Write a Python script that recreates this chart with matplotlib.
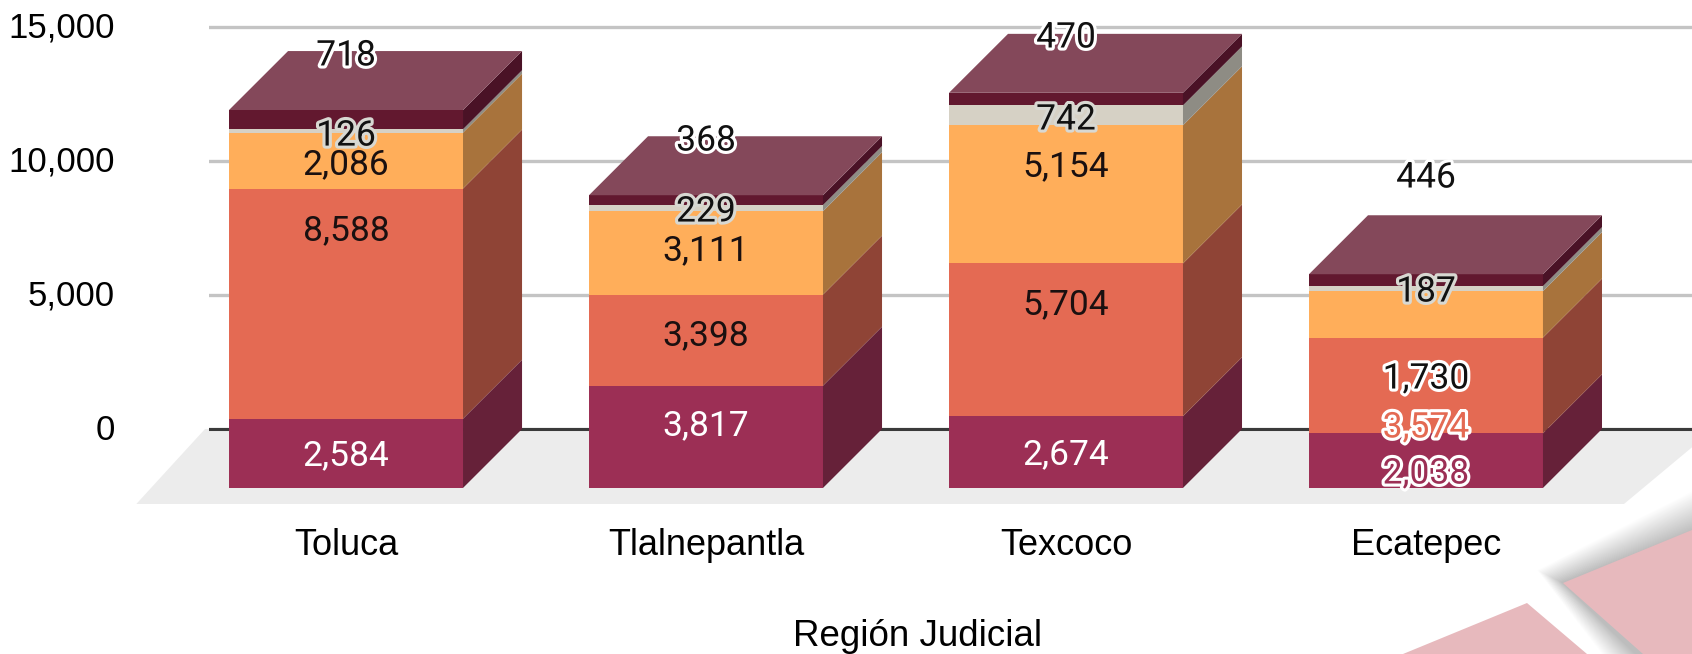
# -*- coding: utf-8 -*-
# Stacked 3D-looking columns per judicial region
import matplotlib
matplotlib.use("Agg")
import matplotlib.pyplot as plt
import matplotlib.patheffects as pe
from matplotlib.patches import Polygon
from matplotlib.transforms import ScaledTranslation
import numpy as np

#### DATA
regions = ["Toluca", "Tlalnepantla", "Texcoco", "Ecatepec"]
yticks = [0, 5000, 10000, 15000]

serie1 = [2584, 3817, 2674, 2038]
serie2 = [8588, 3398, 5704, 3574]
serie3 = [2086, 3111, 5154, 1730]
serie4 = [126, 229, 742, 187]
serie5 = [718, 368, 470, 446]

# where the chart put each label, in axis units (not the segment middle)
label_y1 = [-880, 240, -840, -1550]
label_y2 = [7520, 3600, 4760, 170]
label_y3 = [9980, 6770, 9905, 1995]
label_y4 = [11060, 8225, 11660, 5240]
label_y5 = [14050, 10875, 14720, 9495]

#### STYLES
front = ["#9C2F55", "#E46A53", "#FFAE5A", "#D6D1C5", "#62182F"]
side = ["#662139", "#8F4436", "#A8733C", "#8E8C84", "#4A1226"]
top_color = "#84485A"
width = 0.65
depth_x = 0.164
depth_y = 2200

W, H = 1692, 654
fig = plt.figure(figsize=(W / 100, H / 100), dpi=100)
ax = fig.add_axes([209 / W, (H - 504) / H, (W - 209) / W, 504 / H])
ax.patch.set_alpha(0)
ax.set_xlim(-0.3806, 3.739)
ax.set_ylim(-2799, 16007)

sans = ["Liberation Sans", "DejaVu Sans"]
label_font = ["Roboto", "DejaVu Sans"]

#### BACKGROUND DECORATION (pink corner shapes), figure coordinates


def px(points):
    return [(x / W, 1 - y / H) for x, y in points]


# soft shadow made of many faint growing shapes
steps = 34
for i in range(steps):
    g = (steps - i) * 1.25
    shadow = [(1563 - g * 0.6, 583 - g * 0.3), (1700, 530 - g), (1700, 660), (1643 - g * 0.85, 660)]
    fig.add_artist(Polygon(px(shadow), closed=True, fc="#808080", ec="none", alpha=0.015, zorder=-2))
fig.add_artist(Polygon(px([(1563, 583), (1692, 530), (1692, 654), (1643, 654)]), closed=True,
                       fc="#E7B9BD", ec="none", zorder=-1))
fig.add_artist(Polygon(px([(1527, 603), (1403, 654), (1587, 654)]), closed=True,
                       fc="#E7B9BD", ec="none", zorder=-1))

#### FLOOR + GRID
floor_x = [-0.5825, -0.3917, 3.80, 3.55]
floor_y = [-2799, 0, 0, -2799]
ax.fill(floor_x, floor_y, color="#ECECEC", zorder=1, clip_on=False, lw=0)

ax.set_yticks(yticks)
ax.set_yticklabels([f"{v:,}" for v in yticks], fontsize=25, family=sans)
ax.tick_params(axis="y", length=0, pad=68)
up = ScaledTranslation(0, 1.5 / 72, fig.dpi_scale_trans)
for lab in ax.get_yticklabels():
    lab.set_transform(lab.get_transform() + up)
ax.grid(axis="y", color="#C4C4C4", lw=2.4, zorder=1.5)
ax.set_axisbelow(True)
ax.axhline(0, color="#3A3A3A", lw=2.2, zorder=1.6)
for s in ax.spines.values():
    s.set_visible(False)

#### BARS
x = np.arange(len(regions))
series = [serie1, serie2, serie3, serie4, serie5]
bottom = np.zeros(len(regions))
for values, fc, sc in zip(series, front, side):
    values = np.array(values, dtype=float)
    low = bottom - depth_y
    high = low + values
    ax.bar(x, values, width=width, bottom=low, color=fc, zorder=3, lw=0)
    for i in x:
        right = i + width / 2
        ax.fill([right, right + depth_x, right + depth_x, right],
                [low[i], low[i] + depth_y, high[i] + depth_y, high[i]],
                color=sc, zorder=3, lw=0)
    bottom = bottom + values

for i in x:
    left, right = i - width / 2, i + width / 2
    ax.fill([left, right, right + depth_x, left + depth_x],
            [bottom[i] - depth_y, bottom[i] - depth_y, bottom[i], bottom[i]],
            color=top_color, zorder=3, lw=0)

#### LABELS
positions = [label_y1, label_y2, label_y3, label_y4, label_y5]
text_colors = [["#FFFFFF", "#FFFFFF", "#FFFFFF", "#9C2F55"],
               ["#1A1010", "#1A1010", "#1A1010", "#E46A53"],
               ["#1A1010", "#1A1010", "#1A1010", "#111111"],
               ["#111111", "#111111", "#111111", "#111111"],
               ["#111111", "#111111", "#111111", "#111111"]]
halos = [[None, None, None, "#FFFFFF"],
         [None, None, None, "#FFFFFF"],
         [None, None, None, "#FFFFFF"],
         ["#D8D8D2", "#D8D8D2", "#D8D8D2", "#D8D8D2"],
         ["#FFFFFF", "#FFFFFF", "#FFFFFF", "#FFFFFF"]]
for values, ys, cols, hl in zip(series, positions, text_colors, halos):
    for i in x:
        t = ax.text(i, ys[i], f"{values[i]:,}", ha="center", va="center_baseline", fontsize=25.5,
                    family=label_font, color=cols[i], zorder=5)
        if hl[i]:
            t.set_path_effects([pe.withStroke(linewidth=4.5, foreground=hl[i])])

#### CATEGORY AXIS
ax.set_xticks(x)
ax.set_xticklabels(regions, fontsize=26, family=sans)
ax.tick_params(axis="x", length=0, pad=17)
ax.set_xlabel("Región Judicial", fontsize=26.5, family=sans, va="center")
ax.xaxis.set_label_coords((918 - 209) / (W - 209), -(637 - 504) / 504)

plt.savefig("out.png", dpi=100)
